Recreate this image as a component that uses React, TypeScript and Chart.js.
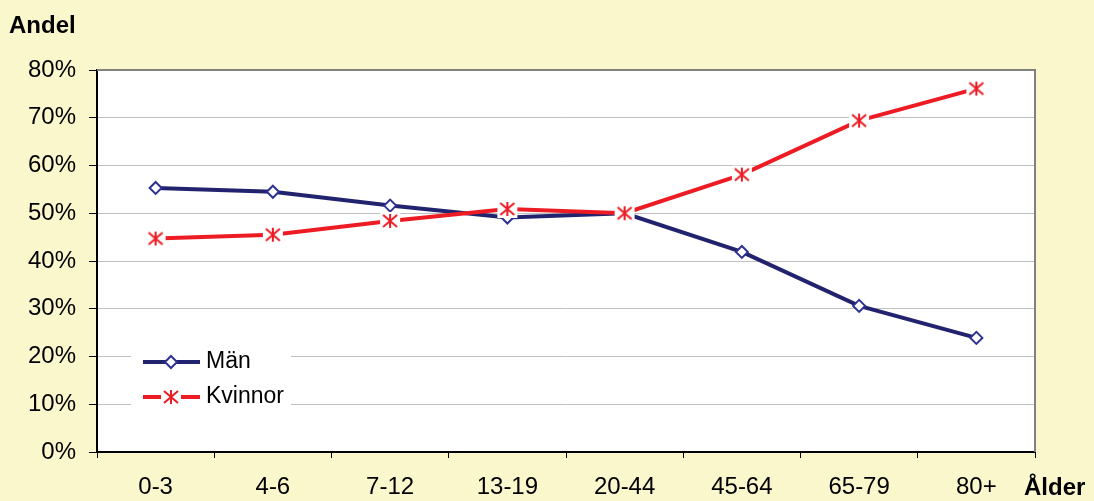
import React, { useEffect, useRef } from "react";
import { Chart, registerables } from "chart.js";

Chart.register(...registerables);

const categories = ["0-3", "4-6", "7-12", "13-19", "20-44", "45-64", "65-79", "80+"];
const manValues = [55.3, 54.5, 51.6, 49.1, 50.0, 41.9, 30.6, 23.9];
const kvinnorValues = [44.7, 45.5, 48.4, 50.9, 50.0, 58.1, 69.4, 76.1];
const yTicks = [0, 10, 20, 30, 40, 50, 60, 70, 80];

const NAVY_LINE = "#22236F";
const NAVY_MARK = "#2E3192";
const RED = "#ED1C24";
const BG = "#FAF7CD";
const FONT = "Liberation Sans, Arial, sans-serif";

function makeStar(): HTMLCanvasElement {
  const c = document.createElement("canvas");
  c.width = 22;
  c.height = 20;
  const g = c.getContext("2d")!;
  g.fillStyle = "#FFFFFF";
  g.fillRect(1, 1, 20, 18);
  g.strokeStyle = RED;
  g.lineWidth = 2;
  const cx = 11, cy = 10, h = 7, w = 7;
  g.beginPath();
  g.moveTo(cx, cy - h); g.lineTo(cx, cy + h);
  g.moveTo(cx - w, cy - h + 1); g.lineTo(cx + w, cy + h - 1);
  g.moveTo(cx + w, cy - h + 1); g.lineTo(cx - w, cy + h - 1);
  g.stroke();
  return c;
}

export default function App() {
  const ref = useRef<HTMLCanvasElement>(null);
  useEffect(() => {
    document.body.style.margin = "0";
    document.body.style.background = BG;
    const star = makeStar();
    const extras = {
      id: "extras",
      beforeDraw(chart: any) {
        const { ctx, chartArea: a } = chart;
        ctx.save();
        ctx.fillStyle = BG;
        ctx.fillRect(0, 0, chart.width, chart.height);
        ctx.fillStyle = "#FFFFFF";
        ctx.fillRect(a.left, a.top, a.right - a.left, a.bottom - a.top);
        ctx.restore();
      },
      afterDraw(chart: any) {
        const { ctx, chartArea: a } = chart;
        ctx.save();
        ctx.strokeStyle = "#808080";
        ctx.lineWidth = 2;
        ctx.beginPath();
        ctx.moveTo(a.left, a.top);
        ctx.lineTo(a.right, a.top);
        ctx.lineTo(a.right, a.bottom);
        ctx.stroke();
        ctx.fillStyle = "#000";
        ctx.font = `bold 24px ${FONT}`;
        ctx.textBaseline = "middle";
        ctx.textAlign = "left";
        ctx.fillText("Andel", 9, 26);
        ctx.fillText("Ålder", 1024, 488);
        // legend
        ctx.fillStyle = "#FFFFFF";
        ctx.fillRect(131, 340, 160, 78);
        const rows = [
          { y: 362, label: "Män", color: NAVY_LINE },
          { y: 397, label: "Kvinnor", color: RED },
        ];
        rows.forEach((r, i) => {
          ctx.strokeStyle = r.color;
          ctx.lineWidth = 4;
          ctx.beginPath();
          ctx.moveTo(143, r.y);
          ctx.lineTo(200, r.y);
          ctx.stroke();
          if (i === 0) {
            ctx.fillStyle = "#FFFFFF";
            ctx.strokeStyle = NAVY_MARK;
            ctx.lineWidth = 2;
            ctx.beginPath();
            ctx.moveTo(171, r.y - 6);
            ctx.lineTo(177, r.y);
            ctx.lineTo(171, r.y + 6);
            ctx.lineTo(165, r.y);
            ctx.closePath();
            ctx.fill();
            ctx.stroke();
          } else {
            ctx.drawImage(star, 160, r.y - 10);
          }
          ctx.fillStyle = "#000";
          ctx.font = `23px ${FONT}`;
          ctx.textBaseline = "middle";
          ctx.fillText(r.label, 206, r.y);
        });
        ctx.restore();
      },
    };
    const chart = new Chart(ref.current!, {
      type: "line",
      data: {
        labels: categories,
        datasets: [
          {
            label: "Män",
            data: manValues,
            borderColor: NAVY_LINE,
            borderWidth: 4,
            pointStyle: "rectRot",
            pointRadius: 6,
            pointBackgroundColor: "#FFFFFF",
            pointBorderColor: NAVY_MARK,
            pointBorderWidth: 2,
            tension: 0,
            order: 2,
          },
          {
            label: "Kvinnor",
            data: kvinnorValues,
            borderColor: RED,
            borderWidth: 4,
            pointStyle: star as any,
            pointRadius: 10,
            tension: 0,
            order: 1,
          },
        ],
      },
      options: {
        responsive: false,
        animation: false,
        layout: { padding: { top: 70, right: 59, left: 0, bottom: 0 } },
        plugins: { legend: { display: false }, tooltip: { enabled: false } },
        scales: {
          x: {
            offset: true,
            grid: {
              offset: true,
              drawOnChartArea: false,
              drawTicks: true,
              tickLength: 6,
              tickColor: "#000",
            },
            border: { color: "#000", width: 2 },
            ticks: {
              color: "#000",
              font: { size: 24, family: FONT },
              padding: 15,
              maxRotation: 0,
              autoSkip: false,
            },
            afterFit(scale: any) {
              scale.height = 49;
            },
          },
          y: {
            min: 0,
            max: 80,
            afterBuildTicks(scale: any) {
              scale.ticks = yTicks.map((v) => ({ value: v }));
            },
            grid: {
              color: "#C0C0C0",
              lineWidth: 1,
              drawTicks: true,
              tickLength: 8,
              tickColor: "#000",
            },
            border: { color: "#000", width: 2 },
            ticks: {
              color: "#000",
              font: { size: 24, family: FONT },
              padding: 13,
              callback: (v: any) => `${v}%`,
            },
            afterFit(scale: any) {
              scale.width = 97;
            },
          },
        },
      },
      plugins: [extras],
    });
    return () => chart.destroy();
  }, []);
  return (
    <div style={{ width: 1094, height: 501, background: BG }}>
      <canvas ref={ref} width={1094} height={501} style={{ display: "block" }} />
    </div>
  );
}
